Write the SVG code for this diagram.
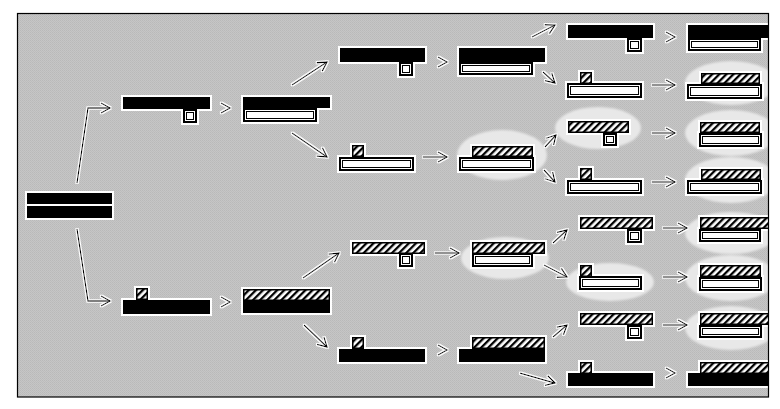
<svg xmlns="http://www.w3.org/2000/svg" width="780" height="409" viewBox="0 0 780 409">
<defs>
<style>
.k{fill:#000}
.h{fill:url(#hatch);stroke:#000;stroke-width:1.5}
.o{fill:#fff;stroke:#000;stroke-width:2}
.oi{fill:none;stroke:#000;stroke-width:1}
.ln{fill:none;stroke:#000;stroke-width:1.3}
.hl{fill:#e8e8e8}
</style>
<pattern id="hatch" patternUnits="userSpaceOnUse" width="5" height="5" patternTransform="rotate(45)">
<rect width="5" height="5" fill="#fff"/>
<rect x="0" y="0" width="2.3" height="5" fill="#000"/>
</pattern>
<pattern id="dither" patternUnits="userSpaceOnUse" width="2" height="2">
<rect width="2" height="2" fill="#c6c6c6"/>
<rect width="1" height="1" fill="#b9b9b9"/>
<rect x="1" y="1" width="1" height="1" fill="#bdbdbd"/>
</pattern>
<filter id="halo" filterUnits="userSpaceOnUse" x="0" y="0" width="780" height="409">
<feMorphology in="SourceAlpha" operator="dilate" radius="2" result="d"/>
<feGaussianBlur in="d" stdDeviation="0.7" result="b"/>
<feFlood flood-color="#fff"/>
<feComposite in2="b" operator="in" result="w"/>
<feMerge><feMergeNode in="w"/><feMergeNode in="SourceGraphic"/></feMerge>
</filter>
<filter id="halo2" filterUnits="userSpaceOnUse" x="0" y="0" width="780" height="409">
<feMorphology in="SourceAlpha" operator="dilate" radius="1" result="d"/>
<feGaussianBlur in="d" stdDeviation="0.6" result="b"/>
<feFlood flood-color="#fff"/>
<feComposite in2="b" operator="in" result="w"/>
<feMerge><feMergeNode in="w"/><feMergeNode in="SourceGraphic"/></feMerge>
</filter>
<filter id="soft" filterUnits="userSpaceOnUse" x="0" y="0" width="780" height="409">
<feGaussianBlur stdDeviation="1.3"/>
</filter>
<clipPath id="inside"><rect x="18" y="14" width="750" height="383"/></clipPath>
<marker id="ah" viewBox="0 0 12 12" refX="10" refY="6" markerWidth="12" markerHeight="12" markerUnits="userSpaceOnUse" orient="auto">
<path d="M1,1 L10,6 L1,11" fill="none" stroke="#000" stroke-width="1.3"/>
</marker>
</defs>
<rect width="780" height="409" fill="#fff"/>
<rect x="17.5" y="13.5" width="751" height="383.5" fill="url(#dither)"/>
<g clip-path="url(#inside)">
<g id="highlights" filter="url(#soft)">
<ellipse class="hl" cx="502" cy="155" rx="45" ry="25"/>
<ellipse class="hl" cx="505" cy="258" rx="44" ry="21"/>
<ellipse class="hl" cx="598" cy="128" rx="43" ry="21"/>
<ellipse class="hl" cx="610" cy="282" rx="44" ry="19"/>
<ellipse class="hl" cx="731" cy="83" rx="46" ry="22"/>
<ellipse class="hl" cx="731" cy="133" rx="46" ry="23"/>
<ellipse class="hl" cx="731" cy="180" rx="46" ry="23"/>
<ellipse class="hl" cx="731" cy="233" rx="46" ry="21"/>
<ellipse class="hl" cx="731" cy="278" rx="46" ry="23"/>
<ellipse class="hl" cx="731" cy="328" rx="46" ry="22"/>
</g>
<g id="connectors" filter="url(#halo2)">
<polyline class="ln" points="77,183 88,108 110,108" marker-end="url(#ah)"/>
<polyline class="ln" points="77,229 88,301 110,301" marker-end="url(#ah)"/>
<path class="ln" d="M221,103 L230,108 L221,113"/>
<path class="ln" d="M221,297 L230,302 L221,307"/>
<line class="ln" x1="292" y1="85" x2="327" y2="62" marker-end="url(#ah)"/>
<line class="ln" x1="292" y1="133" x2="327" y2="157" marker-end="url(#ah)"/>
<line class="ln" x1="303" y1="278" x2="339" y2="253" marker-end="url(#ah)"/>
<line class="ln" x1="304" y1="325" x2="327" y2="347" marker-end="url(#ah)"/>
<path class="ln" d="M438,57 L447,62 L438,67"/>
<line class="ln" x1="423" y1="157" x2="447" y2="157" marker-end="url(#ah)"/>
<line class="ln" x1="435" y1="253" x2="459" y2="253" marker-end="url(#ah)"/>
<path class="ln" d="M438,345 L447,350 L438,355"/>
<line class="ln" x1="532" y1="37" x2="555" y2="25" marker-end="url(#ah)"/>
<line class="ln" x1="543" y1="72" x2="555" y2="83" marker-end="url(#ah)"/>
<line class="ln" x1="545" y1="147" x2="556" y2="135" marker-end="url(#ah)"/>
<line class="ln" x1="544" y1="170" x2="555" y2="182" marker-end="url(#ah)"/>
<line class="ln" x1="553" y1="243" x2="567" y2="230" marker-end="url(#ah)"/>
<line class="ln" x1="544" y1="265" x2="567" y2="277" marker-end="url(#ah)"/>
<line class="ln" x1="553" y1="337" x2="567" y2="325" marker-end="url(#ah)"/>
<line class="ln" x1="520" y1="373" x2="555" y2="383" marker-end="url(#ah)"/>
<path class="ln" d="M666,32 L675,37 L666,42"/>
<line class="ln" x1="652" y1="85" x2="675" y2="85" marker-end="url(#ah)"/>
<line class="ln" x1="652" y1="133" x2="675" y2="133" marker-end="url(#ah)"/>
<line class="ln" x1="652" y1="182" x2="675" y2="182" marker-end="url(#ah)"/>
<line class="ln" x1="663" y1="228" x2="687" y2="228" marker-end="url(#ah)"/>
<line class="ln" x1="663" y1="277" x2="687" y2="277" marker-end="url(#ah)"/>
<line class="ln" x1="663" y1="325" x2="687" y2="325" marker-end="url(#ah)"/>
<path class="ln" d="M666,368 L675,373 L666,378"/>
</g>
<g id="root" filter="url(#halo)">
<rect class="k" x="27" y="193" width="85" height="11"/>
<rect class="k" x="27" y="206" width="85" height="12"/>
</g>
<g id="n1a" filter="url(#halo)">
<rect class="o" x="184" y="110" width="12" height="12"/><rect class="oi" x="186.5" y="112.5" width="7" height="7"/>
<rect class="k" x="123" y="97" width="87" height="12"/>
</g>
<g id="n1b" filter="url(#halo)">
<rect class="h" x="136.75" y="288.75" width="10.5" height="10.5"/>
<rect class="k" x="123" y="300" width="87" height="14"/>
</g>
<g id="n2a" filter="url(#halo)">
<rect class="k" x="243" y="97" width="87" height="11"/>
<rect class="o" x="244" y="109" width="72" height="12"/><rect class="oi" x="246.5" y="111.5" width="67" height="7"/>
</g>
<g id="n2b" filter="url(#halo)">
<rect class="h" x="243.75" y="289.75" width="85.5" height="10.5"/>
<rect class="k" x="243" y="301" width="87" height="12"/>
</g>
<g id="n3a" filter="url(#halo)">
<rect class="o" x="400" y="63" width="12" height="12"/><rect class="oi" x="402.5" y="65.5" width="7" height="7"/>
<rect class="k" x="340" y="48" width="85" height="14"/>
</g>
<g id="n3b" filter="url(#halo)">
<rect class="h" x="352.75" y="145.75" width="10.5" height="10.5"/>
<rect class="o" x="340" y="158" width="73" height="12"/><rect class="oi" x="342.5" y="160.5" width="68" height="7"/>
</g>
<g id="n3c" filter="url(#halo)">
<rect class="o" x="400" y="254" width="12" height="12"/><rect class="oi" x="402.5" y="256.5" width="7" height="7"/>
<rect class="h" x="352.75" y="242.75" width="71.5" height="10.5"/>
</g>
<g id="n3d" filter="url(#halo)">
<rect class="h" x="352.75" y="337.75" width="10.5" height="10.5"/>
<rect class="k" x="339" y="349" width="86" height="13"/>
</g>
<g id="n4a" filter="url(#halo)">
<rect class="k" x="459" y="48" width="86" height="14"/>
<rect class="o" x="460" y="63" width="72" height="11"/><rect class="oi" x="462.5" y="65.5" width="67" height="6"/>
</g>
<g id="n4b" filter="url(#halo)">
<rect class="h" x="472.75" y="146.75" width="59.5" height="9.5"/>
<rect class="o" x="460" y="158" width="73" height="12"/><rect class="oi" x="462.5" y="160.5" width="68" height="7"/>
</g>
<g id="n4c" filter="url(#halo)">
<rect class="o" x="473" y="254" width="59" height="12"/><rect class="oi" x="475.5" y="256.5" width="54" height="7"/>
<rect class="h" x="472.75" y="242.75" width="71.5" height="10.5"/>
</g>
<g id="n4d" filter="url(#halo)">
<rect class="h" x="472.75" y="337.75" width="71.5" height="10.5"/>
<rect class="k" x="459" y="349" width="86" height="13"/>
</g>
<g id="n5a" filter="url(#halo)">
<rect class="o" x="628" y="39" width="13" height="12"/><rect class="oi" x="630.5" y="41.5" width="8" height="7"/>
<rect class="k" x="568" y="25" width="85" height="13"/>
</g>
<g id="n5b" filter="url(#halo)">
<rect class="h" x="580.75" y="72.75" width="10.5" height="10.5"/>
<rect class="o" x="568" y="84" width="73" height="13"/><rect class="oi" x="570.5" y="86.5" width="68" height="8"/>
</g>
<g id="n5c" filter="url(#halo)">
<rect class="o" x="604" y="134" width="12" height="11"/><rect class="oi" x="606.5" y="136.5" width="7" height="6"/>
<rect class="h" x="568.75" y="121.75" width="59.5" height="10.5"/>
</g>
<g id="n5d" filter="url(#halo)">
<rect class="h" x="580.75" y="168.75" width="10.5" height="10.5"/>
<rect class="o" x="568" y="181" width="73" height="12"/><rect class="oi" x="570.5" y="183.5" width="68" height="7"/>
</g>
<g id="n5e" filter="url(#halo)">
<rect class="o" x="628" y="230" width="13" height="12"/><rect class="oi" x="630.5" y="232.5" width="8" height="7"/>
<rect class="h" x="580.75" y="217.75" width="71.5" height="10.5"/>
</g>
<g id="n5f" filter="url(#halo)">
<rect class="o" x="580" y="277" width="61" height="12"/><rect class="oi" x="582.5" y="279.5" width="56" height="7"/>
<rect class="h" x="580.75" y="265.75" width="10.5" height="10.5"/>
</g>
<g id="n5g" filter="url(#halo)">
<rect class="o" x="628" y="326" width="13" height="12"/><rect class="oi" x="630.5" y="328.5" width="8" height="7"/>
<rect class="h" x="580.75" y="313.75" width="71.5" height="10.5"/>
</g>
<g id="n5h" filter="url(#halo)">
<rect class="h" x="580.75" y="362.75" width="10.5" height="10.5"/>
<rect class="k" x="568" y="373" width="85" height="13"/>
</g>
<g id="n6a" filter="url(#halo)">
<rect class="k" x="688" y="25" width="82" height="13"/>
<rect class="o" x="689" y="39" width="71" height="11"/><rect class="oi" x="691.5" y="41.5" width="66" height="6"/>
</g>
<g id="n6b" filter="url(#halo)">
<rect class="h" x="701.75" y="73.75" width="57.5" height="9.5"/>
<rect class="o" x="688" y="85" width="73" height="13"/><rect class="oi" x="690.5" y="87.5" width="68" height="8"/>
</g>
<g id="n6c" filter="url(#halo)">
<rect class="h" x="700.75" y="122.75" width="58.5" height="9.5"/>
<rect class="o" x="700" y="134" width="61" height="12"/><rect class="oi" x="702.5" y="136.5" width="56" height="7"/>
</g>
<g id="n6d" filter="url(#halo)">
<rect class="h" x="701.75" y="169.75" width="58.5" height="9.5"/>
<rect class="o" x="688" y="181" width="73" height="12"/><rect class="oi" x="690.5" y="183.5" width="68" height="7"/>
</g>
<g id="n6e" filter="url(#halo)">
<rect class="o" x="700" y="230" width="60" height="11"/><rect class="oi" x="702.5" y="232.5" width="55" height="6"/>
<rect class="h" x="700.75" y="217.75" width="70" height="10.5"/>
</g>
<g id="n6f" filter="url(#halo)">
<rect class="h" x="700.75" y="265.75" width="59.5" height="10.5"/>
<rect class="o" x="700" y="278" width="61" height="12"/><rect class="oi" x="702.5" y="280.5" width="56" height="7"/>
</g>
<g id="n6g" filter="url(#halo)">
<rect class="o" x="700" y="326" width="61" height="11"/><rect class="oi" x="702.5" y="328.5" width="56" height="6"/>
<rect class="h" x="700.75" y="313.75" width="70" height="10.5"/>
</g>
<g id="n6h" filter="url(#halo)">
<rect class="h" x="700.75" y="362.75" width="70" height="10.5"/>
<rect class="k" x="688" y="373" width="82" height="13"/>
</g>
</g>
<rect x="17.5" y="13.5" width="751" height="383.5" fill="none" stroke="#000" stroke-width="1.2"/>
</svg>
